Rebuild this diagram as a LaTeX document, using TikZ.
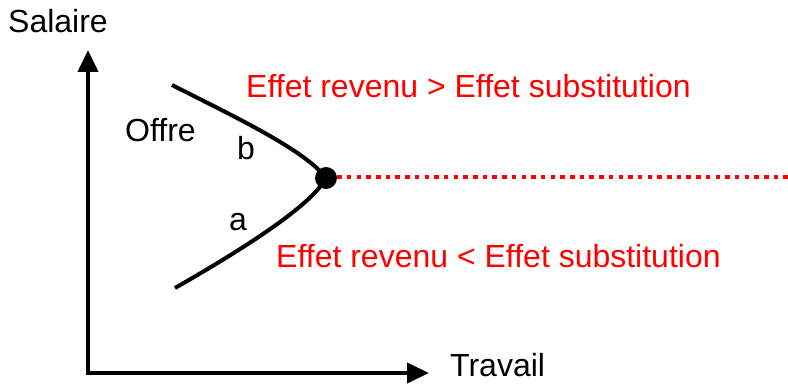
\documentclass[tikz,border=0pt]{standalone}
\usepackage{fontspec}
\setmainfont{Liberation Sans}
\usetikzlibrary{arrows.meta}
\tikzset{
  lbl/.style={anchor=base west, inner sep=0pt, font=\fontsize{32}{36}\selectfont},
  redlbl/.style={lbl, text={rgb,255:red,255;green,0;blue,0}},
  axis/.style={line width=4pt, {Triangle[length=22pt,width=20pt]}-{Triangle[length=22pt,width=20pt]}},
  curveline/.style={line width=4pt},
  dotline/.style={draw={rgb,255:red,255;green,0;blue,0}, line width=4pt, dash pattern=on 4.5pt off 5.2pt}
}
\begin{document}
\begin{tikzpicture}[x=1pt,y=-1pt]
\useasboundingbox (0,0) rectangle (788,385);
% axes
\coordinate (ytip) at (88,50);
\coordinate (origin) at (88,373);
\coordinate (xtip) at (429,373);
\draw[axis] (ytip) -- (origin) -- (xtip);
% labels
\node[lbl] (salaire) at (8,33) {Salaire};
\node[lbl] (travail) at (450,376) {Travail};
\node[lbl] (offre) at (125,142) {Offre};
\node[lbl] (b) at (237,160) {b};
\node[lbl] (a) at (229,230) {a};
\node[redlbl] (r1) at (246,98) {Effet revenu > Effet substitution};
\node[redlbl] (r2) at (276,268) {Effet revenu < Effet substitution};
% curve
\coordinate (cs) at (172,85);
\coordinate (ce) at (175,288);
\node[circle, fill=black, inner sep=0pt, minimum size=22pt] (dot) at (326,178) {};
\draw[curveline] (cs) .. controls (235,117) and (305,150) .. (dot.center)
  .. controls (312,205) and (245,248) .. (ce);
\coordinate (dend) at (788,177);
\draw[dotline] (dot.east |- dend) -- (dend);
\end{tikzpicture}
\end{document}
